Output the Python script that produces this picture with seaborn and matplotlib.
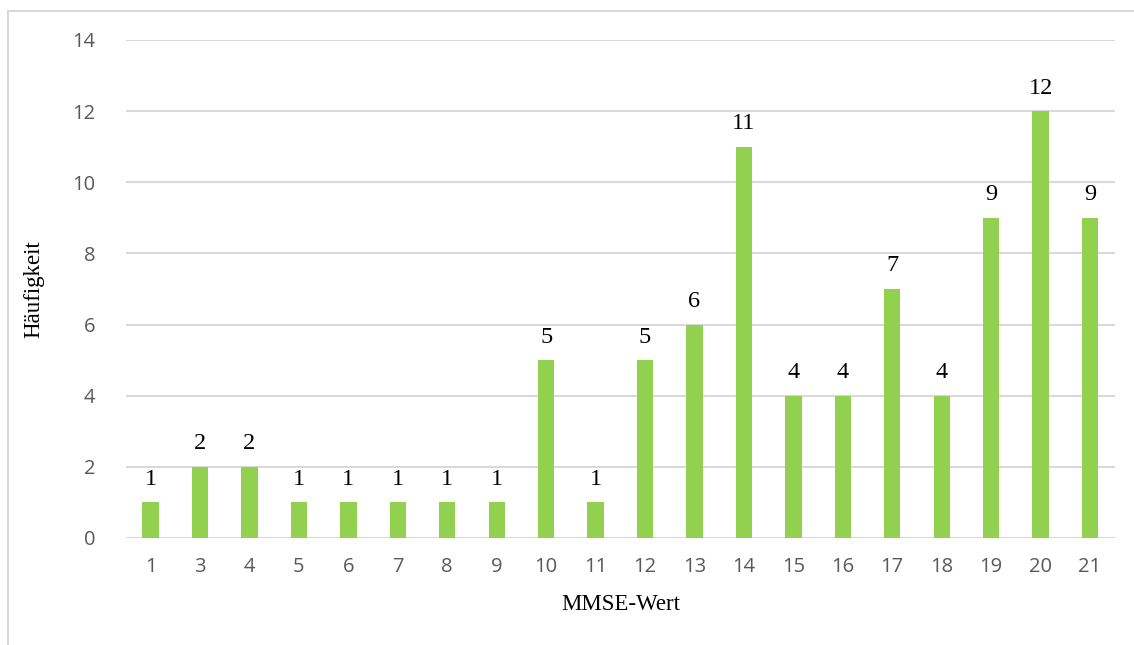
import matplotlib
matplotlib.use("Agg")
import matplotlib.pyplot as plt
import seaborn as sns
import pandas as pd
from matplotlib.lines import Line2D

mmse = ["1", "3", "4", "5", "6", "7", "8", "9", "10", "11",
        "12", "13", "14", "15", "16", "17", "18", "19", "20", "21"]
counts = [1, 2, 2, 1, 1, 1, 1, 1, 5, 1, 5, 6, 11, 4, 4, 7, 4, 9, 12, 9]
y_ticks = [0, 2, 4, 6, 8, 10, 12, 14]

df = pd.DataFrame({"MMSE-Wert": mmse, "Häufigkeit": counts})

sns.set_style("white")
plt.rcParams["font.family"] = ["Open Sans", "DejaVu Sans"]

fig = plt.figure(figsize=(11.34, 6.45), dpi=100)
ax = fig.add_axes([0.111, 0.166, 0.872, 0.772])

sns.barplot(data=df, x="MMSE-Wert", y="Häufigkeit", color="#92D050",
            width=0.33, saturation=1, ax=ax, zorder=3, linewidth=0)

ax.set_ylim(0, 14)
ax.set_yticks(y_ticks)
ax.set_xlim(-0.5, len(mmse) - 0.5)
ax.yaxis.grid(True, color="#d9d9d9", linewidth=1.5, zorder=0)
ax.set_axisbelow(True)
for s in ax.spines.values():
    s.set_visible(False)

ax.tick_params(axis="both", length=0, labelsize=14.5, colors="#595959")
ax.tick_params(axis="y", pad=22)
ax.tick_params(axis="x", pad=14)

for i, v in enumerate(counts):
    ax.annotate(str(v), (i, v), xytext=(0, 9), textcoords="offset points",
                ha="center", va="bottom", fontsize=17.5,
                family="Liberation Serif", color="black")

ax.set_xlabel("MMSE-Wert", fontsize=16.5, family="Liberation Serif",
              color="black", labelpad=12)
ax.set_ylabel("Häufigkeit", fontsize=16.5, family="Liberation Serif",
              color="black", labelpad=20)

# outer chart border (left and top edges visible)
fig.add_artist(Line2D([8 / 1134, 8 / 1134], [0, 1 - 11 / 645],
                      transform=fig.transFigure, color="#d9d9d9", lw=1.5))
fig.add_artist(Line2D([8 / 1134, 1], [1 - 11 / 645, 1 - 11 / 645],
                      transform=fig.transFigure, color="#d9d9d9", lw=1.5))

fig.savefig("out.png", dpi=100)
